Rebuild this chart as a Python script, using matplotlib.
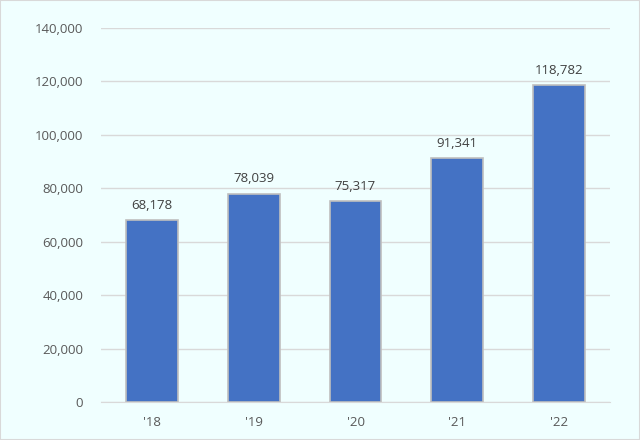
import matplotlib
matplotlib.use("Agg")
from matplotlib import pyplot as plt
from matplotlib.ticker import FuncFormatter, MultipleLocator

years = ["'18", "'19", "'20", "'21", "'22"]
values = [68178, 78039, 75317, 91341, 118782]

bg = "#F0FFFF"
plt.rcParams['font.family'] = ['Open Sans', 'DejaVu Sans']

fig = plt.figure(figsize=(6.4, 4.4), dpi=100, facecolor=bg)
ax = fig.add_axes([0.158, 0.0864, 0.795, 0.85], facecolor=bg)

x = range(len(years))
bars = ax.bar(x, values, width=0.51, color="#4472C4", edgecolor="#BFBFBF", linewidth=1.2, zorder=3)
for xi, v in zip(x, values):
    ax.text(xi, v + 3000, f"{v:,}", ha="center", va="bottom", fontsize=9.5, color="#404040")

ax.set_xlim(-0.5, len(years) - 0.5)
ax.set_ylim(0, 140000)
ax.yaxis.set_major_locator(MultipleLocator(20000))
ax.yaxis.set_major_formatter(FuncFormatter(lambda v, p: f"{int(v):,}"))
ax.set_xticks(list(x))
ax.set_xticklabels(years)
ax.grid(axis="y", color="#D9D9D9", linewidth=1, zorder=0)
for s in ["top", "right", "left"]:
    ax.spines[s].set_visible(False)
ax.spines["bottom"].set_color("#D9D9D9")
ax.tick_params(length=0, colors="#595959", labelsize=9.5)
ax.tick_params(axis="y", pad=13)
ax.tick_params(axis="x", pad=10)

fig.patches.append(plt.Rectangle((0, 0), 1, 1, transform=fig.transFigure,
                                 fill=False, edgecolor="#D9D9D9", linewidth=1.5))

fig.savefig("out.png", facecolor=bg)
